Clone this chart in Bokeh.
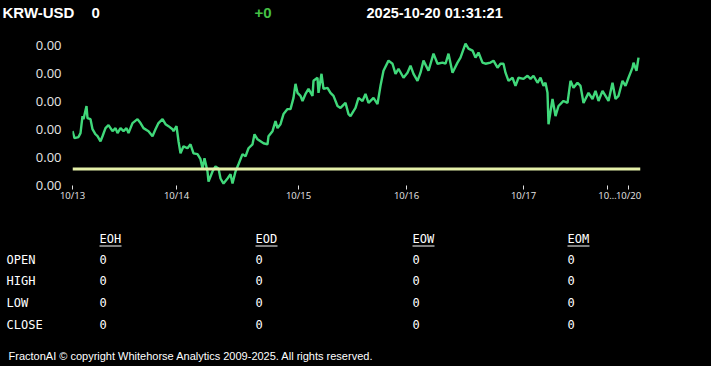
from bokeh.plotting import figure
from bokeh.models import (Range1d, FixedTicker, PrintfTickFormatter, Label, Span,
                          BoxAnnotation, ColumnDataSource)
from bokeh.embed import file_html
from bokeh.resources import INLINE

# ---------------- data ----------------
symbol = "KRW-USD"
last_price = "0"
change = "+0"
timestamp = "2025-10-20 01:31:21"

t = [0, 2, 6, 8, 10, 11, 14, 15, 18, 20, 23, 25, 28, 30, 33, 36, 40, 43, 45, 48,
     51, 54, 56, 60, 65, 68, 71, 76, 80, 83, 86, 90, 93, 96, 100, 101, 104, 106, 108, 111,
     115, 118, 121, 125, 128, 130, 132, 135, 136, 140, 143, 146, 148, 151, 155, 158, 160, 163, 166, 170,
     173, 176, 180, 182, 185, 188, 191, 195, 196, 200, 203, 205, 208, 211, 215, 218, 221, 223, 225, 228,
     230, 233, 236, 240, 241, 245, 246, 249, 251, 255, 258, 261, 265, 268, 273, 276, 278, 281, 283, 286,
     290, 293, 296, 301, 305, 308, 311, 316, 320, 323, 326, 331, 335, 338, 341, 345, 348, 351, 356, 361,
     365, 370, 373, 376, 380, 385, 388, 393, 396, 400, 403, 406, 410, 413, 418, 421, 425, 428, 431, 433,
     436, 440, 443, 446, 451, 455, 458, 461, 465, 468, 471, 473, 475, 476, 480, 483, 486, 491, 495, 498,
     501, 505, 508, 511, 516, 520, 523, 526, 530, 533, 536, 540, 543, 546, 550, 553, 556, 560, 561, 564,
     566]
rate = [0.00070194, 0.00070169, 0.00070173, 0.00070187, 0.00070248, 0.00070237, 0.00070284, 0.00070241, 0.00070237, 0.00070201,
        0.00070183, 0.00070176, 0.00070158, 0.00070176, 0.00070205, 0.00070216, 0.00070194, 0.00070205, 0.00070187, 0.00070205,
        0.00070194, 0.00070205, 0.00070187, 0.00070223, 0.00070237, 0.00070223, 0.00070205, 0.00070194, 0.00070176, 0.00070201,
        0.00070223, 0.00070237, 0.00070219, 0.00070212, 0.00070201, 0.00070194, 0.00070212, 0.00070158, 0.00070115, 0.00070140,
        0.00070133, 0.00070147, 0.00070115, 0.00070112, 0.00070094, 0.00070061, 0.00070097, 0.00070050, 0.00070014, 0.00070050,
        0.00070068, 0.00070061, 0.00070025, 0.00070007, 0.00070025, 0.00070040, 0.00070007, 0.00070050, 0.00070076, 0.00070112,
        0.00070104, 0.00070133, 0.00070147, 0.00070183, 0.00070165, 0.00070158, 0.00070151, 0.00070147, 0.00070176, 0.00070194,
        0.00070230, 0.00070205, 0.00070219, 0.00070255, 0.00070273, 0.00070273, 0.00070313, 0.00070363, 0.00070331, 0.00070320,
        0.00070302, 0.00070327, 0.00070345, 0.00070320, 0.00070374, 0.00070385, 0.00070331, 0.00070399, 0.00070345, 0.00070349,
        0.00070331, 0.00070320, 0.00070284, 0.00070277, 0.00070295, 0.00070255, 0.00070248, 0.00070266, 0.00070277, 0.00070313,
        0.00070302, 0.00070327, 0.00070295, 0.00070313, 0.00070291, 0.00070356, 0.00070410, 0.00070446, 0.00070435, 0.00070399,
        0.00070417, 0.00070385, 0.00070403, 0.00070428, 0.00070399, 0.00070374, 0.00070403, 0.00070446, 0.00070410, 0.00070471,
        0.00070435, 0.00070439, 0.00070435, 0.00070471, 0.00070403, 0.00070439, 0.00070457, 0.00070507, 0.00070489, 0.00070482,
        0.00070457, 0.00070475, 0.00070439, 0.00070435, 0.00070439, 0.00070446, 0.00070421, 0.00070435, 0.00070435, 0.00070403,
        0.00070374, 0.00070385, 0.00070356, 0.00070385, 0.00070381, 0.00070392, 0.00070381, 0.00070392, 0.00070367, 0.00070385,
        0.00070356, 0.00070367, 0.00070331, 0.00070219, 0.00070309, 0.00070248, 0.00070284, 0.00070302, 0.00070295, 0.00070374,
        0.00070349, 0.00070367, 0.00070356, 0.00070295, 0.00070331, 0.00070309, 0.00070338, 0.00070302, 0.00070338, 0.00070320,
        0.00070302, 0.00070367, 0.00070309, 0.00070320, 0.00070374, 0.00070356, 0.00070385, 0.00070421, 0.00070439, 0.00070410,
        0.00070457]
baseline = 0.00070059

x_tick_pos = [0, 104, 226, 334, 451, 535, 556]
x_tick_labels = ["10/13", "10/14", "10/15", "10/16", "10/17", "10\u2026", "10/20"]
y_ticks = [0.000700, 0.000701, 0.000702, 0.000703, 0.000704, 0.000705]

table_cols = ["EOH", "EOD", "EOW", "EOM"]
table_rows = ["OPEN", "HIGH", "LOW", "CLOSE"]
table_vals = [["0", "0", "0", "0"],
              ["0", "0", "0", "0"],
              ["0", "0", "0", "0"],
              ["0", "0", "0", "0"]]
footer = "FractonAI \u00a9 copyright Whitehorse Analytics 2009-2025. All rights reserved."

# ---------------- layout ----------------
W = 711
HEAD_TOP, HEAD_BOT = 0, 26
CHART_TOP, CHART_BOT = 26, 210
FL, FR, FT, FB = 72, 640, 40, 185   # chart frame edges in page pixels
TABLE_TOP, TABLE_BOT = 210, 366


def place(f, top):
    f.styles = {"position": "fixed", "left": "0px", "top": f"{top}px",
                "background-color": "black"}


def blank(top, bot):
    f = figure(width=W, height=bot - top, output_backend="svg", toolbar_location=None,
               x_axis_location=None, y_axis_location=None,
               x_range=Range1d(0, W), y_range=Range1d(0, bot - top),
               min_border=0, background_fill_color="black", border_fill_color="black")
    f.outline_line_color = None
    f.grid.visible = False
    place(f, top)
    return f


def put(f, bot, text, X, Y, color="white", font="Liberation Sans", size="12px", style="normal"):
    f.add_layout(Label(x=X, y=bot - Y, x_units="screen", y_units="screen", text=text,
                       text_color=color, text_font=font, text_font_size=size,
                       text_font_style=style, text_baseline="middle", text_align="left"))


# header
head = blank(HEAD_TOP, HEAD_BOT)
put(head, HEAD_BOT, symbol, 2, 12, size="15px", style="bold")
put(head, HEAD_BOT, last_price, 91, 12, size="15px", style="bold")
put(head, HEAD_BOT, change, 254, 12, color="#45c045", size="15px", style="bold")
put(head, HEAD_BOT, timestamp, 366, 12, size="14.5px", style="bold")

# chart
p = figure(width=W, height=CHART_BOT - CHART_TOP, output_backend="svg", toolbar_location=None,
           x_range=Range1d(0, 568), y_range=Range1d(0.69999964e-3, 0.00070518),
           min_border_left=FL, min_border_right=W - FR, min_border_top=FT - CHART_TOP,
           min_border_bottom=CHART_BOT - FB, background_fill_color="black",
           border_fill_color="black")
p.outline_line_color = None
p.grid.visible = False
place(p, CHART_TOP)

src = ColumnDataSource(dict(t=t, rate=rate))
p.add_layout(Span(location=baseline, dimension="width", line_color="#e4efa8", line_width=3))
p.line("t", "rate", source=src, line_color="#40d87a", line_width=2.4)

xa = p.xaxis[0]
xa.ticker = FixedTicker(ticks=x_tick_pos)
xa.major_label_overrides = {pos: lab for pos, lab in zip(x_tick_pos, x_tick_labels)}
xa.axis_line_color = None
xa.major_tick_line_color = "#e0e0e0"
xa.major_tick_in = 0
xa.major_tick_out = 4
xa.minor_tick_line_color = None
xa.major_label_standoff = -1
xa.major_label_text_color = "#e8e8e8"
xa.major_label_text_font = "Open Sans"
xa.major_label_text_font_size = "9.5px"

ya = p.yaxis[0]
ya.ticker = FixedTicker(ticks=y_ticks)
ya.formatter = PrintfTickFormatter(format="%.2f")
ya.axis_line_color = None
ya.major_tick_line_color = None
ya.major_tick_in = 0
ya.major_tick_out = 0
ya.minor_tick_line_color = None
ya.major_label_standoff = 11
ya.major_label_text_color = "#e6e6e6"
ya.major_label_text_font = "Open Sans"
ya.major_label_text_font_size = "13px"

# table
tab = blank(TABLE_TOP, TABLE_BOT)
col_x = [99, 255, 412, 567]
row_y = [259, 280, 302, 324]
mono = "DejaVu Sans Mono"
for cx, name in zip(col_x, table_cols):
    put(tab, TABLE_BOT, name, cx, 238, font=mono, size="12px")
    tab.add_layout(BoxAnnotation(left=cx, right=cx + 22, bottom=TABLE_BOT - 246, top=TABLE_BOT - 245,
                                 left_units="screen", right_units="screen",
                                 bottom_units="screen", top_units="screen",
                                 fill_color="white", fill_alpha=1, line_color=None))
for ry, rname, vals in zip(row_y, table_rows, table_vals):
    put(tab, TABLE_BOT, rname, 6, ry, font=mono, size="12px")
    for cx, v in zip(col_x, vals):
        put(tab, TABLE_BOT, v, cx, ry, font=mono, size="12px")
put(tab, TABLE_BOT, footer, 8, 355, size="11px")

open("out.html", "w").write(file_html([head, p, tab], INLINE))
